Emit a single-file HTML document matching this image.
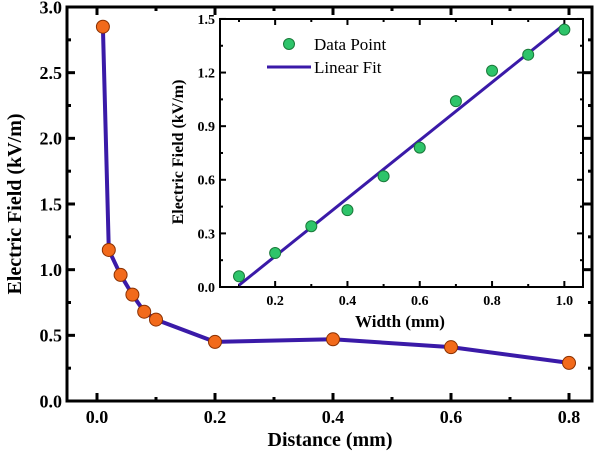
<!DOCTYPE html>
<html><head><meta charset="utf-8"><style>
body{margin:0;background:#fff}
svg{display:block;font-family:"Liberation Serif",serif;font-weight:bold}
</style></head><body>
<svg id="c" width="600" height="453" viewBox="0 0 600 453"></svg>
<script>
const mainX=[0.01,0.02,0.04,0.06,0.08,0.1,0.2,0.4,0.6,0.8];
const mainY=[2.85,1.15,0.96,0.81,0.68,0.62,0.45,0.47,0.41,0.29];
const mainXTicks=[0.0,0.2,0.4,0.6,0.8];
const mainYTicks=[0.0,0.5,1.0,1.5,2.0,2.5,3.0];
const insetX=[0.1,0.2,0.3,0.4,0.5,0.6,0.7,0.8,0.9,1.0];
const insetY=[0.06,0.19,0.34,0.43,0.62,0.78,1.04,1.21,1.30,1.44];
const fitX=[0.1,1.0];
const fitY=[0.01,1.47];
const insetXTicks=[0.2,0.4,0.6,0.8,1.0];
const insetYTicks=[0.0,0.3,0.6,0.9,1.2,1.5];

const svg=document.getElementById('c');
const NS='http://www.w3.org/2000/svg';
function mk(tag,attrs,parent,text){const e=document.createElementNS(NS,tag);for(const k in attrs)e.setAttribute(k,attrs[k]);if(text!==undefined)e.textContent=text;(parent||svg).appendChild(e);return e;}

const mx=v=>97+v*590, my=v=>401-v*131.33;
const mL=67,mR=592,mT=7,mB=401;
function drawAxes(L,R,T,B,xf,yf,xt,yt,xminor,yminor,fs,tl,sw,name){
  const g=mk('g',{});
  
  
  mk('rect',{x:L,y:T,width:R-L,height:B-T,fill:'none',stroke:'#000','stroke-width':sw},g);
  xminor.forEach(v=>{const x=xf(v);mk('line',{x1:x,x2:x,y1:B,y2:B-tl/2,stroke:'#000','stroke-width':sw},g);mk('line',{x1:x,x2:x,y1:T,y2:T+tl/2,stroke:'#000','stroke-width':sw},g);});
  yminor.forEach(v=>{const y=yf(v);mk('line',{x1:L,x2:L+tl/2,y1:y,y2:y,stroke:'#000','stroke-width':sw},g);mk('line',{x1:R,x2:R-tl/2,y1:y,y2:y,stroke:'#000','stroke-width':sw},g);});
  xt.forEach(v=>{const x=xf(v);mk('line',{x1:x,x2:x,y1:B,y2:B-tl,stroke:'#000','stroke-width':sw},g);mk('line',{x1:x,x2:x,y1:T,y2:T+tl,stroke:'#000','stroke-width':sw},g);
    const t=mk('text',{x:x,y:B+fs+4,'text-anchor':'middle','font-size':fs},g,v.toFixed(1));});
  yt.forEach(v=>{const y=yf(v);mk('line',{x1:L,x2:L+tl,y1:y,y2:y,stroke:'#000','stroke-width':sw},g);mk('line',{x1:R,x2:R-tl,y1:y,y2:y,stroke:'#000','stroke-width':sw},g);
    const t=mk('text',{x:L-5,y:y+fs*0.35,'text-anchor':'end','font-size':fs},g,v.toFixed(1));});
}
const mxMinor=[-0.1,0.1,0.3,0.5,0.7].filter(v=>mx(v)>mL);
const myMinor=[0.25,0.75,1.25,1.75,2.25,2.75];
drawAxes(mL,mR,mT,mB,mx,my,mainXTicks,mainYTicks,mxMinor,myMinor,18,8,3,'main');

let t=mk('text',{x:330,y:446,'text-anchor':'middle','font-size':20},svg,'Distance (mm)');

t=mk('text',{x:0,y:0,'text-anchor':'middle','font-size':20,transform:'translate(21,204) rotate(-90)'},svg,'Electric Field (kV/m)');


const line=mk('polyline',{points:mainX.map((v,i)=>mx(v)+','+my(mainY[i])).join(' '),fill:'none',stroke:'#3a1aa8','stroke-width':4,'stroke-linejoin':'round'});

mainX.forEach((v,i)=>{const c=mk('circle',{cx:mx(v),cy:my(mainY[i]),r:6.5,fill:'#f26a1b',stroke:'#8a3000','stroke-width':1});
  });

const ix=v=>239+(v-0.1)*361.5, iy=v=>287-v*178.7;
const iL=220,iR=583,iT=19,iB=287;
mk('rect',{x:iL,y:iT,width:iR-iL,height:iB-iT,fill:'#fff'});
drawAxes(iL,iR,iT,iB,ix,iy,insetXTicks,insetYTicks,[0.1,0.3,0.5,0.7,0.9],[0.15,0.45,0.75,1.05,1.35],14,6,2,'inset');
t=mk('text',{x:400,y:327,'text-anchor':'middle','font-size':17},svg,'Width (mm)');

t=mk('text',{x:0,y:0,'text-anchor':'middle','font-size':16,transform:'translate(183,152) rotate(-90)'},svg,'Electric Field (kV/m)');

const fl=mk('line',{x1:ix(fitX[0]),y1:iy(fitY[0]),x2:ix(fitX[1]),y2:iy(fitY[1]),stroke:'#3a1aa8','stroke-width':3});

insetX.forEach((v,i)=>{const c=mk('circle',{cx:ix(v),cy:iy(insetY[i]),r:5.5,fill:'#2ec46a',stroke:'#1a7a3a','stroke-width':1});
  });
const lg=mk('g',{});

mk('circle',{cx:289,cy:44,r:5.5,fill:'#2ec46a',stroke:'#1a7a3a','stroke-width':1},lg);
t=mk('text',{x:314,y:50,'font-size':17,'font-weight':'normal'},lg,'Data Point');

mk('line',{x1:267,x2:311,y1:67,y2:67,stroke:'#3a1aa8','stroke-width':3},lg);
t=mk('text',{x:314,y:73,'font-size':17,'font-weight':'normal'},lg,'Linear Fit');

</script>
</body></html>
